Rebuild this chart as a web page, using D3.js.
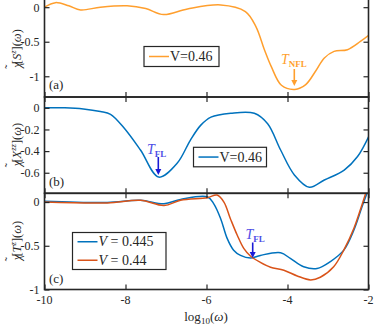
<!DOCTYPE html>
<html>
<head>
<meta charset="utf-8">
<script src="https://cdn.jsdelivr.net/npm/d3@7"></script>
<style>
  body { margin: 0; background: #fff; }
</style>
</head>
<body>
<div id="chart"></div>
<script>
const W = 374, H = 326
const LEFT = 44.5, RIGHT = 368.5
const ORANGE = "#ff9f2e", BLUE = "#0072bd", RED = "#d95319"
const SERIF = "'Liberation Serif', 'DejaVu Serif', serif"

const xTicks = [-10, -8, -6, -4, -2]

// panel (a)
const omegaA = [-10, -9.73, -9.4, -9.11, -8.62, -7.96, -7.5, -7.06, -6.47, -5.65, -5.04, -4.78, -4.57, -4.4, -4.15, -3.82, -3.55, -3.3, -3.09, -2.85, -2.52, -2.2, -1.98]
const chiSz = [0, 0.066, 0.02, -0.04, 0, 0.02, -0.02, -0.107, -0.025, 0.033, -0.063, -0.28, -0.615, -0.86, -1.13, -1.19, -1.12, -0.92, -0.735, -0.64, -0.615, -0.496, -0.4]
const ticksA = [0, -0.5, -1]

// panel (b)
const omegaB = [-10, -9.5, -9.04, -8.62, -8.37, -8.05, -7.63, -7.18, -6.72, -6.4, -6.14, -5.89, -5.4, -4.82, -4.49, -4.17, -3.83, -3.46, -3.09, -2.6, -2.27, -1.98]
const chiXzz = [0, 0, -0.01, -0.034, -0.06, -0.18, -0.39, -0.64, -0.51, -0.3, -0.16, -0.086, -0.05, -0.05, -0.147, -0.39, -0.62, -0.734, -0.667, -0.575, -0.45, -0.254]
const ticksB = [0, -0.2, -0.4, -0.6]

// panel (c)
const omegaC1 = [-10, -8.45, -7.63, -7.05, -6.64, -5.98, -5.82, -5.65, -5.49, -5.33, -5.16, -4.91, -4.67, -4.17, -3.93, -3.6, -3.27, -2.94, -2.61, -2.36, -2.16, -2.0]
const chiTz445 = [0.01, -0.005, 0.02, -0.02, 0.03, 0.06, -0.02, -0.19, -0.415, -0.55, -0.61, -0.64, -0.61, -0.58, -0.645, -0.74, -0.76, -0.68, -0.55, -0.32, -0.055, 0.15]
const omegaC2 = [-10, -8.45, -7.63, -7.05, -6.64, -5.98, -5.74, -5.57, -5.41, -5.24, -5.08, -4.91, -4.67, -4.42, -4.09, -3.76, -3.43, -3.19, -2.86, -2.61, -2.36, -2.16, -2.0]
const chiTz44 = [0, -0.01, 0.02, -0.04, 0.02, 0.05, 0.08, 0, -0.19, -0.38, -0.53, -0.62, -0.69, -0.745, -0.78, -0.845, -0.89, -0.86, -0.74, -0.55, -0.3, -0.03, 0.2]
const ticksC = [0, -0.5, -1]

const svg = d3.select("#chart").append("svg").attr("width", W).attr("height", H)
  .style("font-family", SERIF)

const x = d3.scaleLinear().domain([-10, -2]).range([LEFT, RIGHT])

function panel(id, top, bottom, domain, yTicks, topTicks) {
  const y = d3.scaleLinear().domain(domain).range([bottom, top])
  const g = svg.append("g")
  g.append("clipPath").attr("id", id).append("rect")
    .attr("x", LEFT).attr("y", top).attr("width", RIGHT - LEFT).attr("height", bottom - top)
  const plot = g.append("g").attr("clip-path", `url(#${id})`)

  // ticks on the sides, pointing inwards
  const axes = g.append("g")
  axes.append("g").attr("transform", `translate(0,${bottom})`)
    .call(d3.axisBottom(x).tickValues(xTicks).tickSizeInner(-5).tickSizeOuter(0).tickFormat(""))
  if (topTicks) {
    axes.append("g").attr("transform", `translate(0,${top})`)
      .call(d3.axisTop(x).tickValues(xTicks).tickSizeInner(-5).tickSizeOuter(0).tickFormat(""))
  }
  axes.append("g").attr("transform", `translate(${LEFT},0)`)
    .call(d3.axisLeft(y).tickValues(yTicks).tickSizeInner(-5).tickSizeOuter(0).tickPadding(5)
      .tickFormat(d => d === 0 ? "0" : String(d)))
  axes.append("g").attr("transform", `translate(${RIGHT},0)`)
    .call(d3.axisRight(y).tickValues(yTicks).tickSizeInner(-5).tickSizeOuter(0).tickFormat(""))
  axes.selectAll("g").attr("font-family", null).attr("font-size", null)
  axes.selectAll(".domain").remove()
  axes.selectAll("line").attr("stroke", "#262626").attr("stroke-width", 1.2)
  axes.selectAll("text").attr("font-size", 12).attr("fill", "#262626")

  g.append("rect").attr("x", LEFT).attr("y", top).attr("width", RIGHT - LEFT).attr("height", bottom - top)
    .attr("fill", "none").attr("stroke", "#262626").attr("stroke-width", 1.6)
  return { y, plot, g }
}

function drawLine(p, xs, ys, color) {
  const line = d3.line().x(d => x(d[0])).y(d => p.y(d[1])).curve(d3.curveCatmullRom.alpha(0.5))
  p.plot.append("path").datum(xs.map((v, i) => [v, ys[i]]))
    .attr("d", line).attr("fill", "none").attr("stroke", color).attr("stroke-width", 1.5)
}

function arrow(xv, y0, y1, color) {
  svg.append("line").attr("x1", xv).attr("x2", xv).attr("y1", y0).attr("y2", y1 - 5)
    .attr("stroke", color).attr("stroke-width", 1.6)
  svg.append("path").attr("d", `M${xv - 3},${y1 - 6} L${xv + 3},${y1 - 6} L${xv},${y1} Z`).attr("fill", color)
}

function legendBox(x0, y0, w, h, items, size) {
  svg.append("rect").attr("x", x0).attr("y", y0).attr("width", w).attr("height", h)
    .attr("fill", "#fff").attr("stroke", "#262626").attr("stroke-width", 1.2)
  items.forEach((it, i) => {
    const cy = y0 + (i + 0.5) * h / items.length
    svg.append("line").attr("x1", x0 + 5).attr("x2", x0 + 25).attr("y1", cy).attr("y2", cy)
      .attr("stroke", it.color).attr("stroke-width", 1.5)
    const t = svg.append("text").attr("x", x0 + 26).attr("y", cy + 4.5).attr("font-size", size).attr("fill", "#262626")
    it.text(t)
  })
}

// (a)
const pa = panel("clipA", -2, 97, [-1.3, 0.133], ticksA, false)
drawLine(pa, omegaA, chiSz, ORANGE)
// (b)
const pb = panel("clipB", 97, 193.3, [-0.79, 0.1], ticksB, true)
drawLine(pb, omegaB, chiXzz, BLUE)
// (c)
const pc = panel("clipC", 193.3, 289.5, [-1, 0.1], ticksC, true)
drawLine(pc, omegaC1, chiTz445, BLUE)
drawLine(pc, omegaC2, chiTz44, RED)

// x tick labels + label
svg.selectAll(".xl").data(xTicks).join("text")
  .attr("x", d => x(d)).attr("y", 304).attr("text-anchor", "middle").attr("font-size", 12).attr("fill", "#262626")
  .text(d => String(d))
const xl = svg.append("text").attr("x", 206).attr("y", 321).attr("text-anchor", "middle").attr("font-size", 13).attr("fill", "#262626")
xl.append("tspan").text("log")
xl.append("tspan").attr("font-size", 9).attr("dy", 3).text("10")
xl.append("tspan").attr("dy", -3).text("(")
xl.append("tspan").attr("font-style", "italic").text("ω")
xl.append("tspan").text(")")

// y labels
function yLabel(cy, sup, base) {
  const t = svg.append("text").attr("transform", `translate(21,${cy}) rotate(-90)`)
    .attr("text-anchor", "middle").attr("font-size", 12.5).attr("fill", "#262626")
  t.append("tspan").attr("font-style", "italic").text("χ")
  t.append("tspan").attr("dx", -6.5).attr("dy", -7).text("˜")
  t.append("tspan").attr("dx", 0.5).attr("dy", 7).text("[")
  t.append("tspan").attr("font-style", "italic").text(base)
  t.append("tspan").attr("font-style", "italic").attr("font-size", 8.5).attr("dy", -5).text(sup)
  t.append("tspan").attr("dy", 5).text("](")
  t.append("tspan").attr("font-style", "italic").text("ω")
  t.append("tspan").text(")")
}
yLabel(49, "z", "S")
yLabel(145, "zz", "X")
yLabel(241, "z", "T")

// panel tags
svg.append("text").attr("x", 49).attr("y", 89).attr("font-size", 13).attr("fill", "#262626").text("(a)")
svg.append("text").attr("x", 49).attr("y", 185.5).attr("font-size", 13).attr("fill", "#262626").text("(b)")
svg.append("text").attr("x", 49).attr("y", 283).attr("font-size", 13).attr("fill", "#262626").text("(c)")

// legends
legendBox(144, 46.5, 75, 20, [{ color: ORANGE, text: t => t.text("V=0.46") }], 14)
legendBox(193.5, 147.3, 73, 19.5, [{ color: BLUE, text: t => t.text("V=0.46") }], 14)
legendBox(72.5, 232.5, 93.5, 37, [
  { color: BLUE, text: t => { t.append("tspan").attr("font-style", "italic").text("V"); t.append("tspan").text(" = 0.445") } },
  { color: RED, text: t => { t.append("tspan").attr("font-style", "italic").text("V"); t.append("tspan").text(" = 0.44") } }
], 14)

// annotations
function tLabel(x0, y0, sub, color) {
  const t = svg.append("text").attr("x", x0).attr("y", y0).attr("font-size", 14).attr("fill", color)
  t.append("tspan").attr("font-style", "italic").text("T")
  t.append("tspan").attr("font-size", 9).attr("dy", 3).attr("font-weight", "bold").text(sub)
}
tLabel(281, 64, "NFL", ORANGE)
arrow(294.3, 69, 86, ORANGE)
tLabel(147, 154, "FL", "#4d4de6")
arrow(158.3, 157, 175, "#1a1ad6")
tLabel(245.5, 239, "FL", "#4d4de6")
arrow(252.7, 242.5, 258, "#1a1ad6")
</script>
</body>
</html>
